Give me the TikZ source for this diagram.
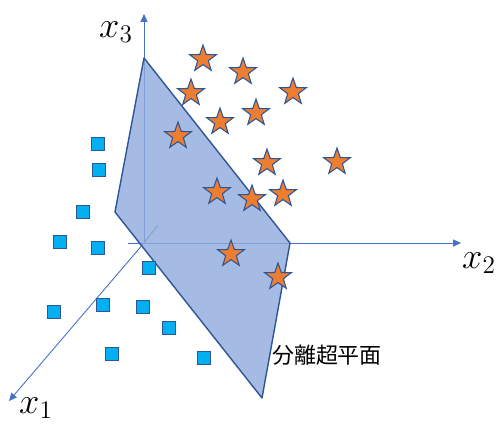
\documentclass[tikz,border=0pt]{standalone}
\usepackage{fontspec}
\usepackage{tikz}
\usetikzlibrary{shapes.geometric, arrows.meta, positioning}
\newfontfamily\jpfont{Noto Sans CJK JP}
\definecolor{axisblue}{HTML}{4472C4}
\definecolor{edgeblue}{HTML}{2F5597}
\definecolor{planeblue}{HTML}{8FAADC}
\definecolor{starorange}{HTML}{ED7D31}
\definecolor{dotcyan}{HTML}{00B0F0}

\begin{document}
\begin{tikzpicture}[x=0.02cm, y=-0.02cm,
        axis/.style={axisblue, line width=0.5pt},
        axisarrow/.style={axis, -{Triangle[length=4.5pt, width=4pt]}},
        plane/.style={draw=edgeblue, line width=0.8pt, fill=planeblue, fill opacity=0.8, line join=round},
        posstar/.style={star, star points=5, star point ratio=2.5, minimum size=0.56cm, inner sep=0pt, fill=starorange, draw=edgeblue, line width=0.6pt},
        negbox/.style={rectangle, minimum size=0.26cm, inner sep=0pt, fill=dotcyan, draw=edgeblue, line width=0.6pt},
        axlabel/.style={font=\fontsize{20}{24}\selectfont, inner sep=0pt}
    ]
        \useasboundingbox (0,0) rectangle (500,427);

        % axes
        \coordinate (o) at (144,243);
        \coordinate (x1end) at (9,401);
        \coordinate (x2end) at (461,243);
        \coordinate (x3end) at (144,14);
        \coordinate (x1back) at (158,225);
        \coordinate (x2back) at (128,243);
        \draw [axis] (x1back) -- (o);
        \draw [axis] (x2back) -- (o);
        \draw [axisarrow] (o) -- (x1end);
        \draw [axisarrow] (o) -- (x2end);
        \draw [axisarrow] (o) -- (x3end);

        \node (x1lab) [axlabel] at (36,408) {$x_1$};
        \node (x2lab) [axlabel] at (479,263) {$x_2$};
        \node (x3lab) [axlabel] at (116,32) {$x_3$};

        % separating hyperplane
        \draw [plane] (144,58) -- (290,243) -- (262,398) -- (115,212) -- cycle;
        \node (hyp) [font=\jpfont\fontsize{12.5}{15}\selectfont, inner sep=0pt] at (327,355) {分離超平面};

        % class +1
        \node (p1) [posstar] at (203,59) {};
        \node (p2) [posstar] at (243,72) {};
        \node (p3) [posstar] at (191,93) {};
        \node (p4) [posstar] at (293,92) {};
        \node (p5) [posstar] at (256,113) {};
        \node (p6) [posstar] at (220,122) {};
        \node (p7) [posstar] at (178,136) {};
        \node (p8) [posstar] at (267,163) {};
        \node (p9) [posstar] at (337,162) {};
        \node (p10) [posstar] at (217,192) {};
        \node (p11) [posstar] at (252,199) {};
        \node (p12) [posstar] at (283,194) {};
        \node (p13) [posstar] at (231,254) {};
        \node (p14) [posstar] at (278,277) {};

        % class -1
        \node (n1) [negbox] at (98,144) {};
        \node (n2) [negbox] at (99,170) {};
        \node (n3) [negbox] at (83,212) {};
        \node (n4) [negbox] at (60,242) {};
        \node (n5) [negbox] at (98,248) {};
        \node (n6) [negbox] at (149,268) {};
        \node (n7) [negbox] at (54,312) {};
        \node (n8) [negbox] at (103,305) {};
        \node (n9) [negbox] at (143,307) {};
        \node (n10) [negbox] at (169,328) {};
        \node (n11) [negbox] at (112,354) {};
        \node (n12) [negbox] at (204,358) {};
    \end{tikzpicture}
\end{document}
